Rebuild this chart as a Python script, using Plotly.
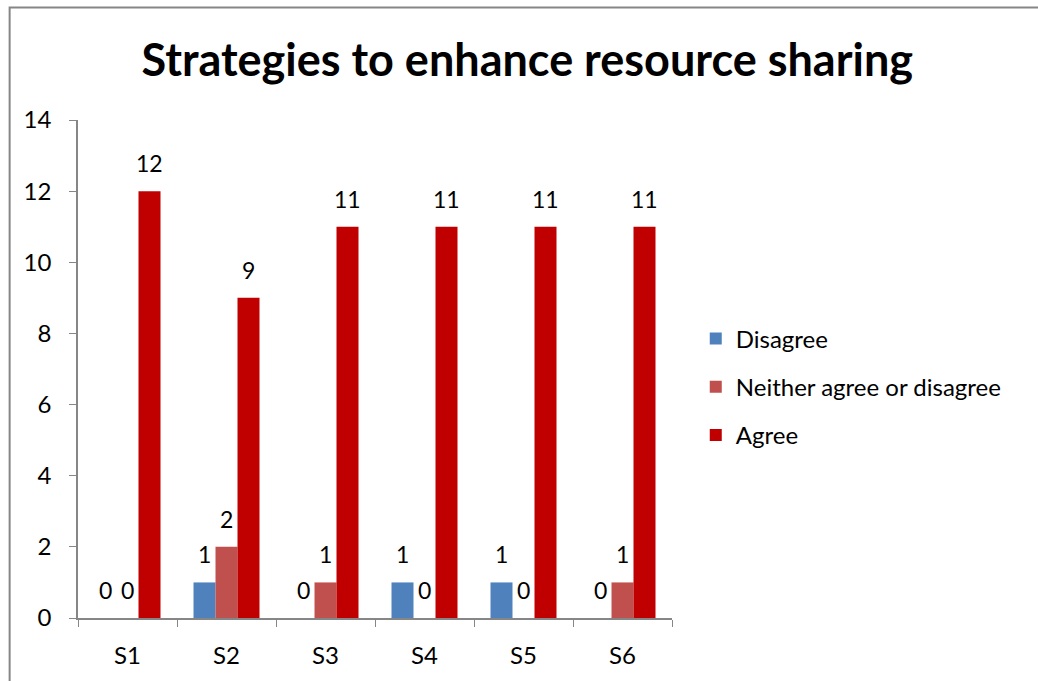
import plotly.graph_objects as go

categories = ["S1", "S2", "S3", "S4", "S5", "S6"]
disagree = [0, 1, 0, 1, 1, 0]
neither = [0, 2, 1, 0, 0, 1]
agree = [12, 9, 11, 11, 11, 11]

series_names = ["Disagree", "Neither agree or disagree", "Agree"]
series_values = [disagree, neither, agree]
series_colors = ["#4F81BD", "#C0504D", "#C00000"]

FONT = "Lato, 'Open Sans', sans-serif"
AXIS_GREY = "#868686"

# plot-area geometry
WIDTH, HEIGHT = 1038, 681
MARGIN = dict(l=78, r=366, t=120, b=61)
BARGAP = 1 / 3
plot_w = WIDTH - MARGIN["l"] - MARGIN["r"]
bar_px = plot_w / len(categories) * (1 - BARGAP) / len(series_names)

fig = go.Figure()
for name, vals, color in zip(series_names, series_values, series_colors):
    fig.add_trace(go.Bar(
        name=name,
        x=categories,
        y=vals,
        marker=dict(color=color, line=dict(width=0)),
        legendgroup=name,
    ))

# value labels above each bar of each group
annotations = []
for i, vals in enumerate(series_values):
    offset = (i - (len(series_values) - 1) / 2) * bar_px
    for cat, v in zip(categories, vals):
        annotations.append(dict(
            x=cat, y=v, xref="x", yref="y",
            text=str(v), showarrow=False,
            xanchor="center", yanchor="bottom",
            xshift=offset, yshift=12,
            font=dict(family=FONT, size=23, color="black"),
        ))

fig.update_layout(
    width=WIDTH,
    height=HEIGHT,
    paper_bgcolor="white",
    plot_bgcolor="white",
    barmode="group",
    bargap=BARGAP,
    bargroupgap=0,
    margin=MARGIN,
    title=dict(
        text="<b>Strategies to enhance resource sharing</b>",
        font=dict(family=FONT, size=45, color="black"),
        x=0.508, xanchor="center",
        y=0.912, yanchor="middle",
    ),
    legend=dict(
        x=1.040, xanchor="left",
        y=0.464, yanchor="middle",
        font=dict(family=FONT, size=24, color="black"),
        traceorder="grouped",
        tracegroupgap=14,
        itemwidth=30,
        bgcolor="rgba(0,0,0,0)",
    ),
    showlegend=True,
    font=dict(family=FONT, size=23, color="black"),
    annotations=annotations,
    shapes=[dict(
        type="rect", xref="paper", yref="paper",
        x0=-0.1151, x1=1.7, y0=-0.2, y1=1.226,
        line=dict(color=AXIS_GREY, width=2),
        layer="below",
    )],
)

fig.update_xaxes(
    type="category",
    showline=True, linecolor=AXIS_GREY, linewidth=1.5,
    ticks="outside", tickson="boundaries", ticklen=7, tickcolor=AXIS_GREY,
    tickfont=dict(family=FONT, size=24, color="black"),
    ticklabelstandoff=15,
    showgrid=False, zeroline=False,
)
fig.update_yaxes(
    range=[0, 14], dtick=2,
    showline=True, linecolor=AXIS_GREY, linewidth=1.5,
    ticks="outside", ticklen=7, tickcolor=AXIS_GREY,
    tickfont=dict(family=FONT, size=24, color="black"),
    ticklabelstandoff=13,
    showgrid=False, zeroline=False,
)

fig.write_html("out.html")
